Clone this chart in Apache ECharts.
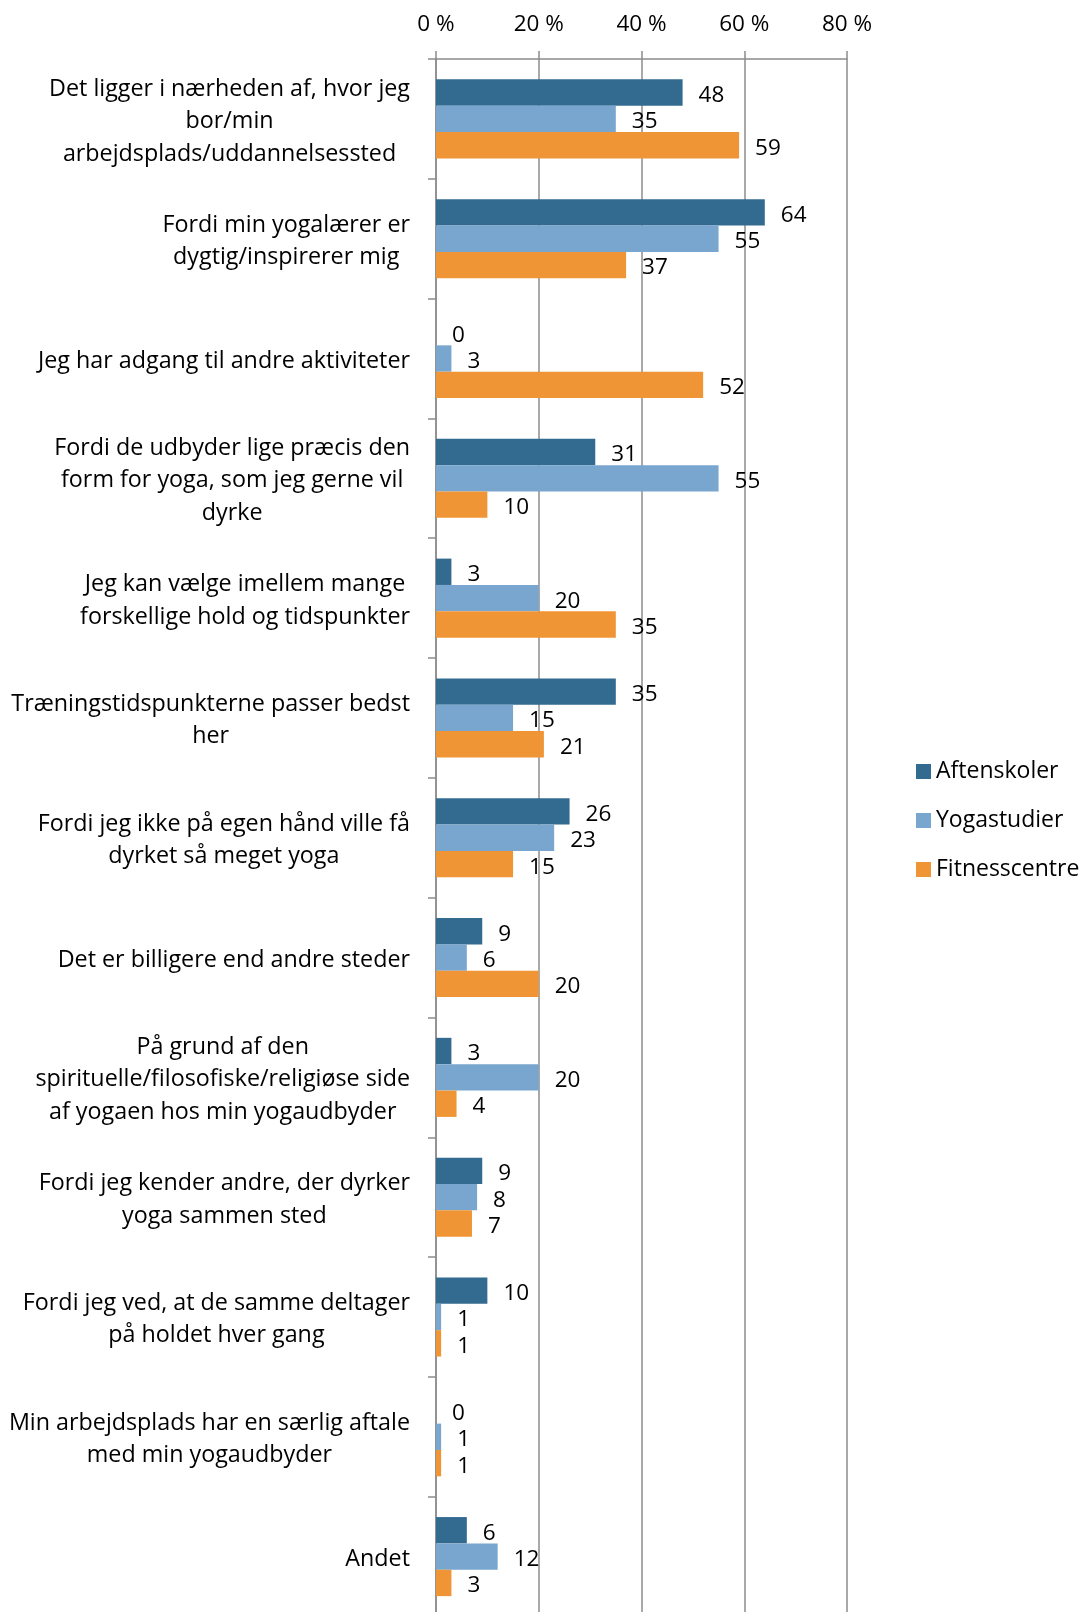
<!DOCTYPE html>
<html>
<head>
<meta charset="utf-8">
<style>
  html, body { margin: 0; padding: 0; background: #ffffff; }
  #chart { width: 1084px; height: 1612px; }
</style>
<script src="https://cdn.jsdelivr.net/npm/echarts@6/dist/echarts.min.js"></script>
</head>
<body>
<div id="chart"></div>
<script>
var categories = [
  'Det ligger i nærheden af, hvor jeg\nbor/min\narbejdsplads/uddannelsessted',
  'Fordi min yogalærer er\ndygtig/inspirerer mig',
  'Jeg har adgang til andre aktiviteter',
  'Fordi de udbyder lige præcis den\nform for yoga, som jeg gerne vil\ndyrke',
  'Jeg kan vælge imellem mange\nforskellige hold og tidspunkter',
  'Træningstidspunkterne passer bedst\nher',
  'Fordi jeg ikke på egen hånd ville få\ndyrket så meget yoga',
  'Det er billigere end andre steder',
  'På grund af den\nspirituelle/filosofiske/religiøse side\naf yogaen hos min yogaudbyder',
  'Fordi jeg kender andre, der dyrker\nyoga sammen sted',
  'Fordi jeg ved, at de samme deltager\npå holdet hver gang',
  'Min arbejdsplads har en særlig aftale\nmed min yogaudbyder',
  'Andet'
];
var seriesNames = ['Aftenskoler', 'Yogastudier', 'Fitnesscentre'];
var aftenskoler = [48, 64, 0, 31, 3, 35, 26, 9, 3, 9, 10, 0, 6];
var yogastudier = [35, 55, 3, 55, 20, 15, 23, 6, 20, 8, 1, 1, 12];
var fitnesscentre = [59, 37, 52, 10, 35, 21, 15, 20, 4, 7, 1, 1, 3];
var xTicks = [0, 20, 40, 60, 80];

var colors = ['#336a90', '#79a6ce', '#f09535'];
var font = '"Open Sans", "Noto Sans", sans-serif';
var gridColor = '#8c8c8c';

var chart = echarts.init(document.getElementById('chart'), null, { renderer: 'canvas' });

function barSeries(name, data, color) {
  return {
    name: name,
    type: 'bar',
    data: data,
    barGap: '0%',
    barCategoryGap: '34%',
    itemStyle: { color: color },
    label: {
      show: true,
      position: 'right',
      distance: 16,
      offset: [0, 3],
      color: '#000000',
      fontFamily: font,
      fontSize: 22.5,
      formatter: '{c}'
    }
  };
}

var option = {
  backgroundColor: '#ffffff',
  animation: false,
  textStyle: { fontFamily: font },
  grid: { left: 436, top: 59, width: 411, height: 1557.5, containLabel: false, outerBoundsMode: 'none' },
  legend: {
    orient: 'vertical',
    left: 911,
    top: 755,
    icon: 'rect',
    itemWidth: 15,
    itemHeight: 15,
    itemGap: 26,
    data: seriesNames,
    textStyle: { color: '#000000', fontFamily: font, fontSize: 23, lineHeight: 22 }
  },
  xAxis: {
    type: 'value',
    position: 'top',
    min: xTicks[0],
    max: xTicks[xTicks.length - 1],
    interval: 20,
    axisLine: { show: true, lineStyle: { color: gridColor, width: 1.5 } },
    axisTick: { show: true, length: 8, lineStyle: { color: gridColor, width: 1.5 } },
    splitLine: { show: true, lineStyle: { color: gridColor, width: 1.5 } },
    axisLabel: {
      margin: 23,
      color: '#000000',
      fontFamily: font,
      fontSize: 22.5,
      formatter: '{value} %'
    }
  },
  yAxis: {
    type: 'category',
    inverse: true,
    data: categories,
    axisLine: { show: true, lineStyle: { color: gridColor, width: 1.5 } },
    axisTick: { show: true, length: 8, interval: 0, lineStyle: { color: gridColor, width: 1.5 } },
    axisLabel: {
      interval: 0,
      margin: 26,
      padding: [5, 0, 0, 0],
      color: '#000000',
      fontFamily: font,
      fontSize: 23.3,
      lineHeight: 32.5,
      formatter: function (value) {
        return value.split('\n').map(function (l) { return '{c|' + l + '}'; }).join('\n');
      },
      rich: {
        c: { align: 'center', color: '#000000', fontFamily: font, fontSize: 23.3, lineHeight: 32.5 }
      }
    }
  },
  series: [
    barSeries(seriesNames[0], aftenskoler, colors[0]),
    barSeries(seriesNames[1], yogastudier, colors[1]),
    barSeries(seriesNames[2], fitnesscentre, colors[2])
  ]
};

chart.setOption(option);
window.addEventListener('resize', function () { chart.resize(); });
</script>
</body>
</html>
